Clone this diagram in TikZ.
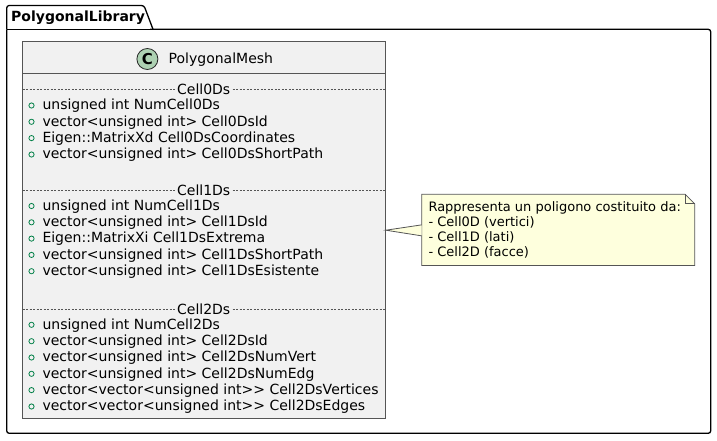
\documentclass[tikz,border=0pt]{standalone}
\usepackage{fontspec}
\setmainfont{DejaVu Sans}
\definecolor{classfill}{HTML}{F1F1F1}
\definecolor{notefill}{HTML}{FEFFDD}
\definecolor{spotfill}{HTML}{ADD1B2}
\definecolor{bordergray}{HTML}{555555}
\definecolor{pubgreen}{HTML}{038048}
\tikzset{
  pkgline/.style={draw=black, line width=1.3pt},
  classbox/.style={draw=bordergray, fill=classfill, line width=0.8pt, inner sep=0pt},
  sepline/.style={draw=bordergray, line width=0.6pt, dash pattern=on 2pt off 1.5pt},
  seplabel/.style={fill=classfill, inner xsep=1pt, inner ysep=0pt, font=\fontsize{14}{16}\selectfont},
  attrtext/.style={anchor=base west, inner sep=0pt, font=\fontsize{14}{16}\selectfont},
  pubmark/.style={draw=pubgreen, line width=0.8pt},
  notebox/.style={draw=bordergray, fill=notefill, line width=0.8pt},
  notetext/.style={anchor=base west, inner sep=0pt, font=\fontsize{13}{15}\selectfont},
}
\begin{document}
\begin{tikzpicture}[x=1pt,y=-1pt]
\useasboundingbox (0,0) rectangle (717,440);
% package
\draw[pkgline, rounded corners=2.5pt] (6.7,29.3) -- (6.7,433.3) -- (710.7,433.3) -- (710.7,29.3) -- (150,29.3);
\draw[pkgline] (6.7,29.3) -- (153,29.3);
\draw[pkgline, rounded corners=2.5pt] (6.7,29.3) -- (6.7,5.5) -- (144,5.5) -- (153,29.3);
\node (pkg) [anchor=base west, inner sep=0pt, font=\fontsize{14}{16}\selectfont\bfseries] at (11,21) {PolygonalLibrary};
% class
\node (mesh) [classbox, anchor=north west, minimum width=362.7pt, minimum height=377pt] at (22.3,41.3) {};
\node (spot) [circle, draw=black!85, line width=0.8pt, fill=spotfill, minimum size=21pt, inner sep=0pt, font=\fontsize{15}{17}\selectfont\bfseries] at (147.4,59) {C};
\node (title) [attrtext] at (168.5,63.8) {PolygonalMesh};
\draw[draw=bordergray, line width=0.8pt] (22.3,73.3) -- (385,73.3);
% separators
\foreach \y/\lab/\nm in {89.3/Cell0Ds/s0, 190/Cell1Ds/s1, 309/Cell2Ds/s2}{
  \draw[sepline] (22.7,\y) -- (384.6,\y);
  \node (\nm) [seplabel] at (203.7,\y) {\lab};
}
% attributes
\foreach \y/\txt/\nm in {
  105/unsigned int NumCell0Ds/a1,
  121.3/vector<unsigned int> Cell0DsId/a2,
  137.6/Eigen::MatrixXd Cell0DsCoordinates/a3,
  154/vector<unsigned int> Cell0DsShortPath/a4,
  205.5/unsigned int NumCell1Ds/b1,
  221.8/vector<unsigned int> Cell1DsId/b2,
  238.1/Eigen::MatrixXi Cell1DsExtrema/b3,
  254.4/vector<unsigned int> Cell1DsShortPath/b4,
  270.7/vector<unsigned int> Cell1DsEsistente/b5,
  324.3/unsigned int NumCell2Ds/c1,
  340.7/vector<unsigned int> Cell2DsId/c2,
  357/vector<unsigned int> Cell2DsNumVert/c3,
  373.3/vector<unsigned int> Cell2DsNumEdg/c4,
  389.6/vector<vector<unsigned int>{}> Cell2DsVertices/c5,
  406/vector<vector<unsigned int>{}> Cell2DsEdges/c6}{
  \draw[pubmark] (31.5,\y+0.5) circle (2.6pt);
  \node (\nm) [attrtext] at (42.3,\y+4.8) {\txt};
}
% note
\node (note) [anchor=north west, minimum width=272.6pt, minimum height=70.7pt, inner sep=0pt] at (421.7,194.3) {};
\draw[notebox] (note.north west) -- ([xshift=-9.5pt]note.north east) -- ([yshift=-9.5pt]note.north east) -- (note.south east) -- (note.south west) -- cycle;
\draw[draw=bordergray, line width=0.8pt] ([xshift=-9.5pt]note.north east) -- ([xshift=-9.5pt,yshift=-9.5pt]note.north east) -- ([yshift=-9.5pt]note.north east);
\fill[notefill] (mesh.east) -- ([yshift=5pt]note.west) -- ([yshift=-6pt]note.west) -- cycle;
\draw[draw=bordergray, line width=0.8pt] ([yshift=5pt]note.west) -- (mesh.east) -- ([yshift=-6pt]note.west);
\node (n1) [notetext] at (428.3,211.7) {Rappresenta un poligono costituito da:};
\node (n2) [notetext] at (428.3,226.5) {- Cell0D (vertici)};
\node (n3) [notetext] at (428.3,241.3) {- Cell1D (lati)};
\node (n4) [notetext] at (428.3,256.1) {- Cell2D (facce)};
\end{tikzpicture}
\end{document}
